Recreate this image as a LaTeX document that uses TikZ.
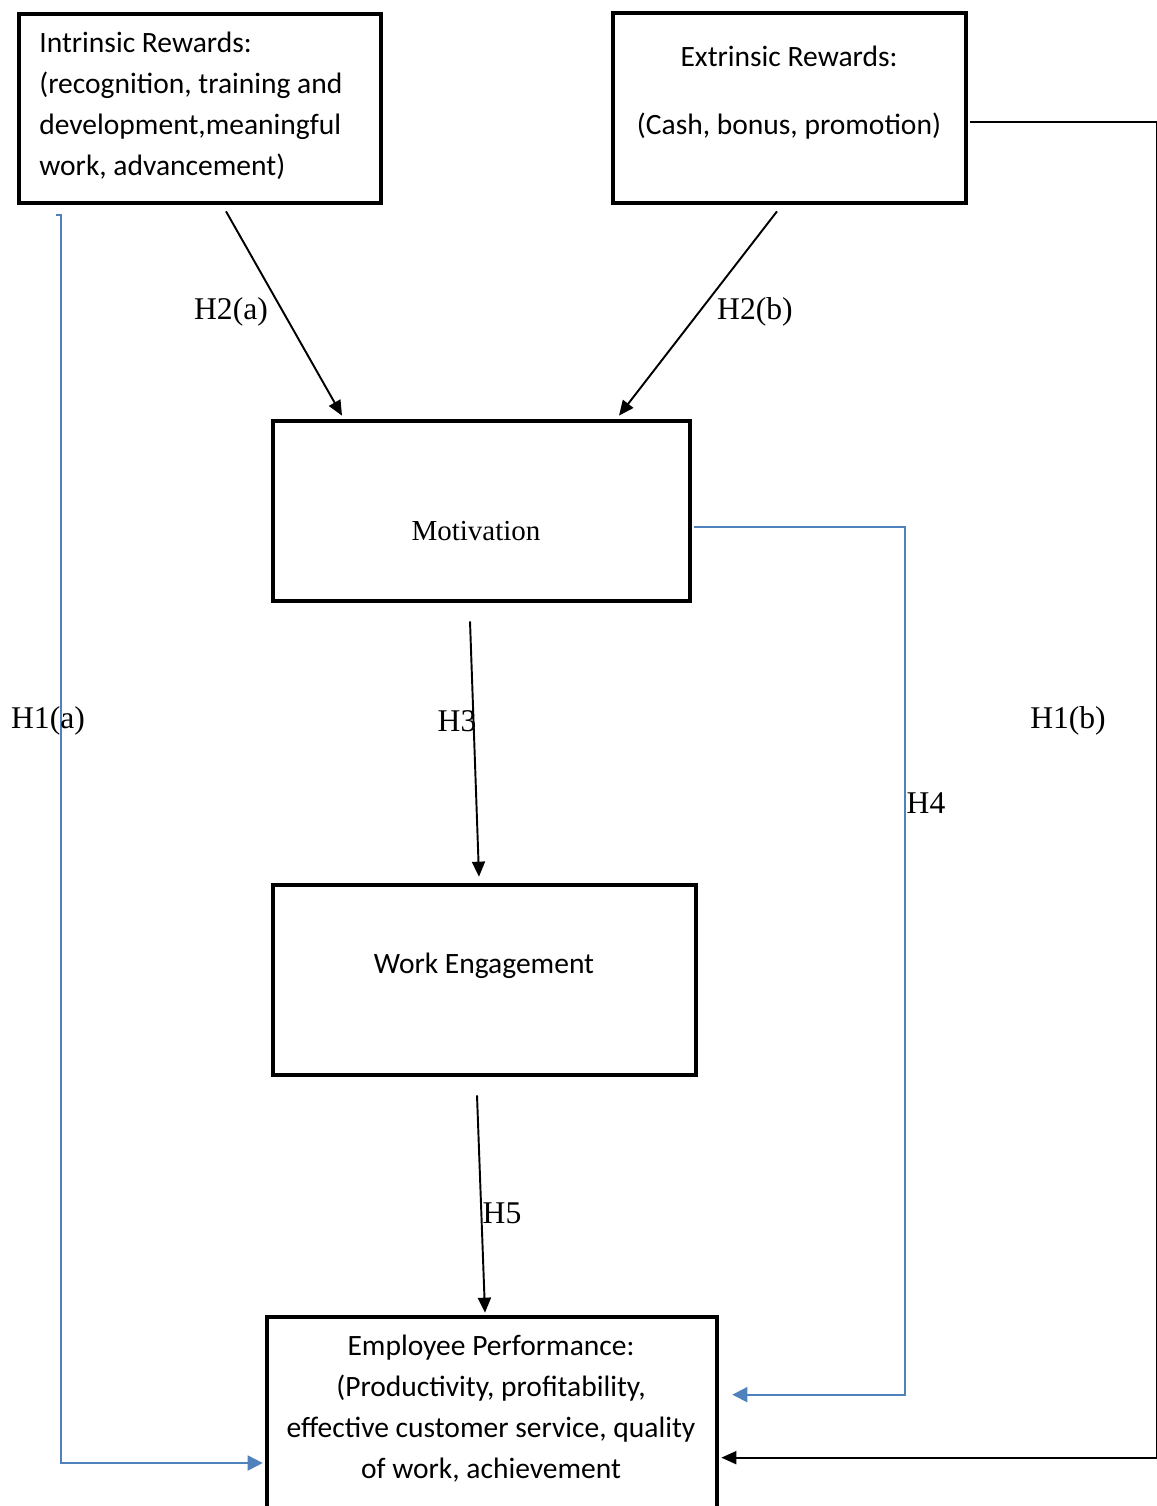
\documentclass[tikz,border=0pt]{standalone}
\usepackage{fontspec}
\setmainfont{Liberation Serif}
\newfontfamily\calib{Carlito}
\usetikzlibrary{arrows.meta, calc}

\definecolor{linkblue}{HTML}{4F81BD}

\begin{document}
\begin{tikzpicture}[x=0.02cm, y=-0.02cm, >={Triangle[length=3mm,width=2.6mm]},
    box/.style={draw, line width=2.7pt, inner sep=0pt},
    boxtext/.style={font=\calib\fontsize{16.8}{23.3}\selectfont, inner sep=0pt},
    lbl/.style={font=\fontsize{18}{20}\selectfont, inner sep=0pt},
    arr/.style={->, line width=1.1pt},
    bluearr/.style={-{Triangle[length=3mm,width=3mm]}, linkblue, line width=1.1pt}]
    \useasboundingbox (0,0) rectangle (1156,1506);

    % Boxes
    \node[box, minimum width=7.24cm, minimum height=3.78cm] (intr) at (200,108.5) {};
    \node[box, minimum width=7.06cm, minimum height=3.8cm] (ext) at (789.5,108) {};
    \node[box, minimum width=8.34cm, minimum height=3.6cm] (mot) at (481.5,511) {};
    \node[box, minimum width=8.46cm, minimum height=3.8cm] (we) at (484.5,980) {};
    \node[box, minimum width=9cm, minimum height=4.86cm] (emp) at (492,1438.5) {};

    % Box texts
    \node[boxtext, anchor=west, align=left] (intrtxt) at (39,105.5)
        {Intrinsic Rewards:\\(recognition, training and\\development,meaningful\\work, advancement)};
    \node[boxtext, align=center] (exttxt) at (789,93)
        {Extrinsic Rewards:\\[15.4pt](Cash, bonus, promotion)};
    \node[lbl, font=\fontsize{16.5}{20}\selectfont] (mottxt) at (476,531) {Motivation};
    \node[boxtext] (wetxt) at (484,966) {Work Engagement};
    \node[boxtext, align=center] (emptxt) at (491,1409)
        {Employee Performance:\\(Productivity, profitability,\\effective customer service, quality\\of work, achievement};

    % Edges
    \draw[arr] ($(intr.south)+(26,6)$) -- ($(mot.north)+(-139.5,-3)$);
    \draw[arr] ($(ext.south)+(-12.5,6)$) -- ($(mot.north)+(137.5,-3)$);
    \draw[arr] ($(mot.south)+(-11.5,18)$) -- ($(we.north)+(-5.5,-6)$);
    \draw[arr] ($(we.south)+(-7.5,18)$) -- ($(emp.north)+(-7,-2)$);

    % Elbow lines
    \draw[bluearr] ($(intr.south west)+(39,10)$) -- ++(5,0) |- ($(emp.west)+(-2,24.5)$);
    \draw[bluearr] ($(mot.east)+(2,16)$) -- ++(211,0) |- ($(emp.north east)+(13,80)$);
    \draw[arr] ($(ext.east)+(2,14)$) -- ++(187,0) |- ($(emp.north east)+(2,143)$);

    % Labels
    \node[lbl] (h2a) at (231,312) {H2(a)};
    \node[lbl] (h2b) at (755,312) {H2(b)};
    \node[lbl] (h3) at (457,721) {H3};
    \node[lbl] (h4) at (926,803) {H4};
    \node[lbl] (h5) at (502,1213) {H5};
    \node[lbl] (h1a) at (48,721) {H1(a)};
    \node[lbl] (h1b) at (1068,721) {H1(b)};
\end{tikzpicture}
\end{document}
